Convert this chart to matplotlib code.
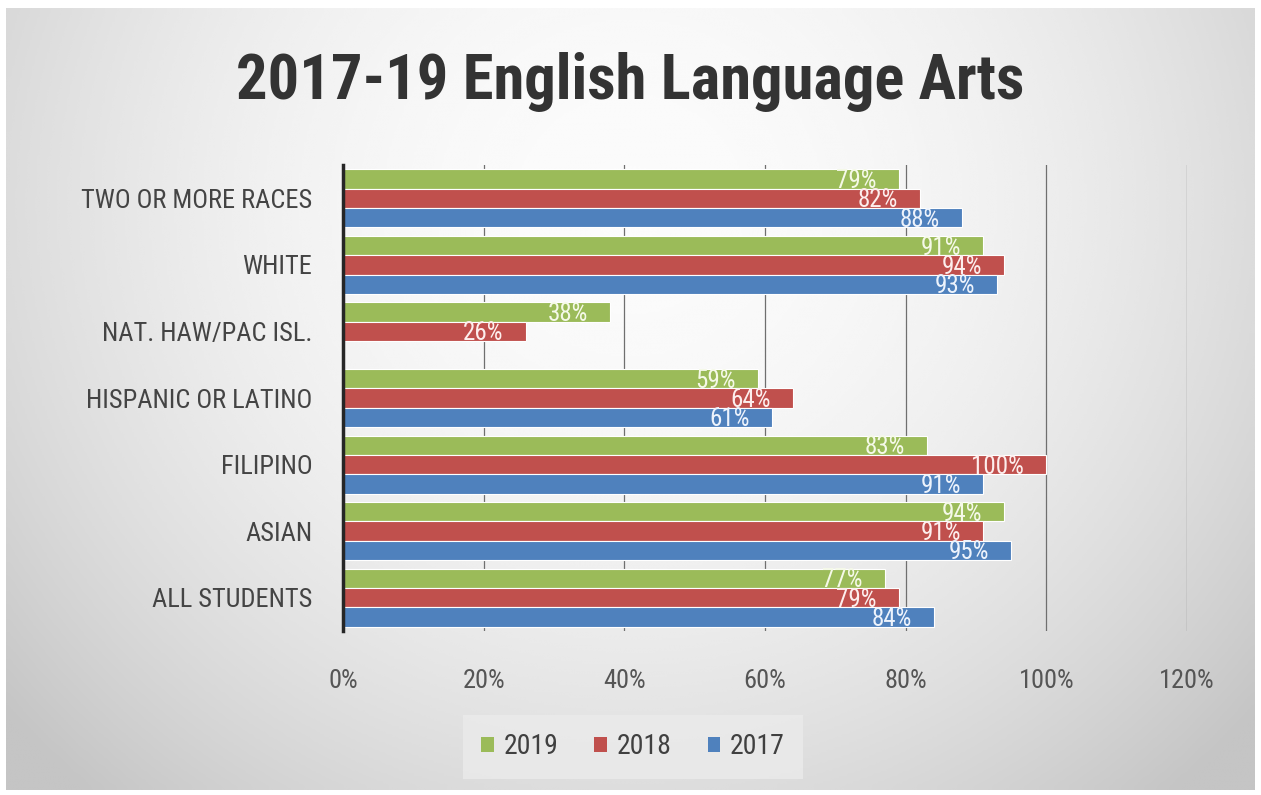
import numpy as np
import matplotlib
matplotlib.use("Agg")
import matplotlib.pyplot as plt
from matplotlib import font_manager
from matplotlib.patches import Patch

# ============================================================
# DATA
# ============================================================
groups = ["ALL STUDENTS", "ASIAN", "FILIPINO", "HISPANIC OR LATINO",
          "NAT. HAW/PAC ISL.", "WHITE", "TWO OR MORE RACES"]
years = ["2019", "2018", "2017"]
pct_2019 = [77, 94, 83, 59, 38, 91, 79]
pct_2018 = [79, 91, 100, 64, 26, 94, 82]
pct_2017 = [84, 95, 91, 61, np.nan, 93, 88]

colors = ["#9BBB59", "#C0504D", "#4F81BD"]
label_colors = ["#f5f9e8", "#fdeeed", "#edf3fc"]
title = "2017-19 English Language Arts"


def pick_family(candidates):
    names = {f.name for f in font_manager.fontManager.ttflist}
    for c in candidates:
        if c in names:
            return c
    return "DejaVu Sans"


narrow = pick_family(["Liberation Sans Narrow", "Roboto Condensed", "DejaVu Sans"])

# ============================================================
# FIGURE + GRADIENT BACKGROUND
# ============================================================
W, H = 1261, 795
fig = plt.figure(figsize=(W / 100, H / 100), dpi=100)
fig.patch.set_facecolor("white")

bg = fig.add_axes([6 / W, 5 / H, 1249 / W, 782 / H])
bg.set_axis_off()
yy, xx = np.mgrid[0:1:300j, 0:1:500j]
r2 = ((xx - 0.5) / 0.62) ** 2 + ((yy - 0.25) / 0.95) ** 2
shade = np.clip(0.985 - 0.19 * r2, 0.77, 0.985)
bg.imshow(shade, cmap="gray", vmin=0, vmax=1, aspect="auto",
          extent=[0, 1, 1, 0], interpolation="bicubic")
bg.set_xlim(0, 1)
bg.set_ylim(1, 0)

# ============================================================
# BARS
# ============================================================
ax = fig.add_axes([343 / W, 1 - 631 / H, 844 / W, 466 / H])
ax.patch.set_alpha(0)

y = np.arange(len(groups))
step = 0.29
series = [pct_2019, pct_2018, pct_2017]
offsets = [step, 0, -step]

for vals, off, col, lcol in zip(series, offsets, colors, label_colors):
    vals = np.array(vals, dtype=float)
    ax.barh(y + off, vals / 100, height=step, color=col,
            edgecolor="white", linewidth=0.8, zorder=3)
    for yi, v in zip(y, vals):
        if np.isnan(v):
            continue
        ax.annotate(f"{v:.0f}%", xy=(v / 100, yi + off),
                    xytext=(-22, -2), textcoords="offset pixels",
                    ha="right", va="center", fontsize=18,
                    family=narrow, color=lcol, zorder=4)

ax.set_xlim(0, 1.2)
ax.set_ylim(-0.5, len(groups) - 0.5)
ax.set_xticks(np.arange(0, 1.21, 0.2))
ax.set_xticklabels([f"{int(round(t * 100))}%" for t in np.arange(0, 1.21, 0.2)])
ax.set_yticks(y)
ax.set_yticklabels(groups)
ax.tick_params(axis="both", length=0)
ax.tick_params(axis="x", labelsize=19, colors="#555555", pad=27)
ax.tick_params(axis="y", labelsize=19, colors="#444444", pad=22)
for lab in ax.get_xticklabels() + ax.get_yticklabels():
    lab.set_family(narrow)

ax.grid(axis="x", color="#6f6f6f", linewidth=0.9, zorder=0)
for side in ["top", "right", "bottom"]:
    ax.spines[side].set_visible(False)
ax.spines["left"].set_color("#262626")
ax.spines["left"].set_linewidth(2.5)
ax.spines["left"].set_zorder(5)

# ============================================================
# TITLE + LEGEND
# ============================================================
fig.text(0.5, 1 - 82 / H, title, ha="center", va="center",
         fontsize=45, fontweight="bold", color="#333333", family=narrow)

handles = [Patch(facecolor=c, edgecolor="none") for c in colors]
leg = fig.legend(handles, years, loc="center", bbox_to_anchor=(633 / W, 1 - 747 / H),
                 ncol=3, frameon=True, fancybox=False, fontsize=20,
                 handlelength=0.45, handleheight=0.45, handletextpad=0.35,
                 columnspacing=1.3, borderpad=0.65, borderaxespad=0)
leg.get_frame().set_facecolor("#ebebeb")
leg.get_frame().set_edgecolor("none")
for t in leg.get_texts():
    t.set_color("#404040")
    t.set_family(narrow)

fig.savefig("out.png", dpi=100)
